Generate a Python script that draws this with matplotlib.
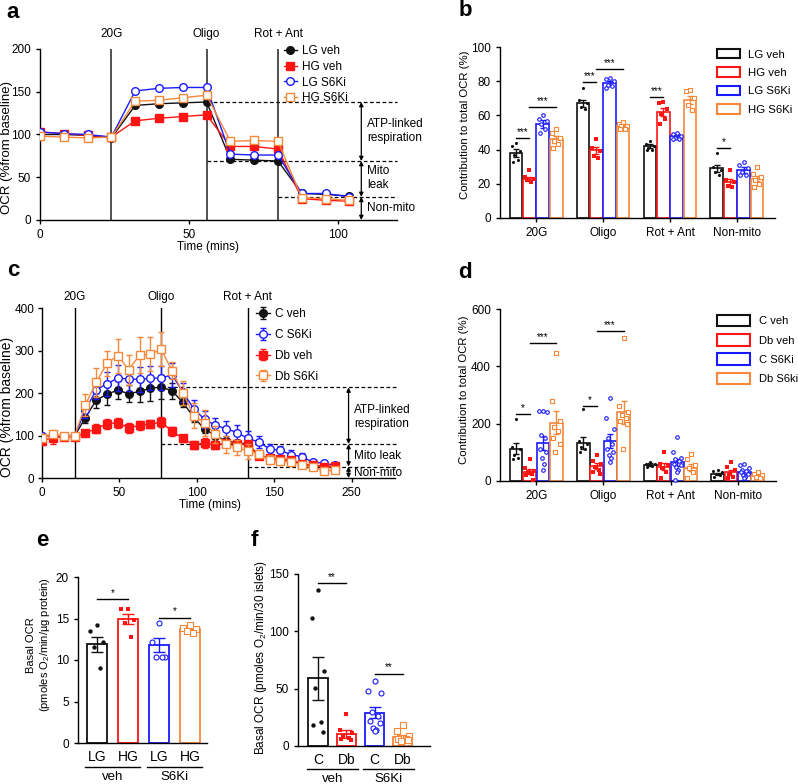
import numpy as np
import matplotlib
matplotlib.use('Agg')
import matplotlib.pyplot as plt
from matplotlib.patches import Patch
from matplotlib.transforms import blended_transform_factory

plt.rcParams['font.family'] = ['Liberation Sans', 'DejaVu Sans']
plt.rcParams['font.size'] = 8
plt.rcParams['mathtext.fontset'] = 'custom'
plt.rcParams['mathtext.rm'] = 'Liberation Sans'
plt.rcParams['axes.linewidth'] = 1.0
plt.rcParams['xtick.major.size'] = 3
plt.rcParams['ytick.major.size'] = 3

W, H = 798, 784
BLACK = '#111111'
RED = '#ff1414'
BLUE = '#1a1aff'
ORANGE = '#f7883a'
COLORS = [BLACK, RED, BLUE, ORANGE]

# ---- panel a : OCR time course (islets, LG / HG) ----
a_time = [0, 8, 16, 24, 32, 40, 48, 56, 64, 72, 80, 88, 96, 104]
a_lg_veh = [100, 100, 99, 96, 134, 136, 137, 138, 71, 70, 69, 31, 30, 28]
a_hg_veh = [103, 101, 99, 97, 116, 119, 121, 123, 86, 86, 83, 25, 23, 22]
a_lg_s6ki = [103, 101, 100, 97, 151, 154, 155, 155, 77, 76, 76, 31, 31, 27]
a_hg_s6ki = [98, 97, 96, 97, 139, 140, 143, 146, 92, 93, 92, 26, 25, 23]
a_labels = ['LG veh', 'HG veh', 'LG S6Ki', 'HG S6Ki']
a_events = [(24, '20G'), (56, 'Oligo'), (80, 'Rot + Ant')]

# ---- panel b : contribution to total OCR ----
groups = ['20G', 'Oligo', 'Rot + Ant', 'Non-mito']
b_means = [[38, 67, 42, 29],      # LG veh
           [23, 39.5, 62, 21],    # HG veh
           [55, 79, 48, 28],      # LG S6Ki
           [46, 54, 69, 23]]      # HG S6Ki
b_sems = [[2.5, 2.2, 1.2, 2.2],
          [1.2, 2.2, 2.6, 2.0],
          [2.2, 1.3, 1.0, 1.6],
          [2.0, 0.9, 2.6, 1.5]]
b_points = [
    [[44, 42, 39, 37, 34, 33], [76, 69, 67, 65, 64], [45, 43, 42, 41, 40, 40], [38, 30, 28, 27, 25]],
    [[28, 24, 23, 22, 21], [46, 41, 39, 36, 35], [68, 67, 64, 61, 58, 55], [28, 22, 21, 19, 18]],
    [[60, 58, 57, 55, 52, 50], [82, 81, 80, 78, 77, 76], [50, 49, 48, 47, 46, 46], [33, 31, 29, 27, 25, 25]],
    [[52, 50, 47, 45, 43, 41], [56, 55, 54, 54, 52, 52], [75, 74, 70, 66, 63], [30, 26, 24, 22, 20, 18]],
]
# (group, bar1, bar2, y, stars)
b_sig = [(0, 0, 1, 47, '***'), (0, 1, 3, 65, '***'), (1, 0, 1, 79.6, '***'),
         (1, 1, 3, 87.4, '***'), (2, 0, 1, 71, '***'), (3, 0, 1, 40.8, '*')]

# ---- panel c : OCR time course (C / Db islets) ----
c_time = [0, 7, 14, 21, 28, 35, 42, 49, 56, 63, 70, 77, 84, 91,
          98, 105, 112, 119, 126, 133, 140, 147, 154, 161, 168, 175, 182, 189]
c_c_veh = [100, 100, 98, 98, 142, 183, 197, 207, 198, 204, 211, 214, 205, 178,
           143, 115, 100, 87, 83, 80, 53, 48, 41, 39, 33, 28, 28, 25]
c_c_veh_sem = [3, 3, 3, 3, 12, 18, 25, 22, 20, 25, 30, 28, 18, 12,
               12, 10, 8, 8, 7, 7, 5, 5, 4, 4, 4, 4, 3, 3]
c_c_s6ki = [100, 98, 98, 98, 160, 207, 222, 235, 233, 232, 235, 235, 243, 202,
            163, 138, 124, 116, 107, 93, 85, 68, 65, 55, 50, 37, 35, 30]
c_c_s6ki_sem = [3, 3, 3, 3, 18, 22, 28, 30, 28, 30, 28, 28, 28, 22,
                20, 20, 18, 18, 18, 18, 15, 12, 10, 10, 8, 6, 5, 5]
c_db_veh = [88, 95, 97, 97, 106, 116, 128, 130, 118, 124, 127, 131, 110, 93,
            78, 82, 78, 82, 81, 79, 52, 46, 45, 43, 33, 30, 27, 28]
c_db_veh_sem = [10, 15, 5, 5, 6, 10, 12, 12, 12, 10, 10, 12, 10, 8,
                10, 12, 10, 8, 8, 8, 6, 6, 5, 5, 4, 4, 4, 4]
c_db_s6ki = [95, 104, 98, 98, 172, 225, 270, 288, 255, 289, 291, 303, 252, 200,
             147, 130, 103, 80, 72, 63, 57, 43, 40, 38, 30, 25, 17, 18]
c_db_s6ki_sem = [8, 8, 5, 5, 25, 35, 30, 40, 35, 42, 40, 40, 20, 28,
                 30, 30, 20, 20, 18, 18, 10, 10, 8, 8, 6, 5, 5, 5]
c_labels = ['C veh', 'C S6Ki', 'Db veh', 'Db S6Ki']
c_events = [(21, '20G'), (77, 'Oligo'), (133, 'Rot + Ant')]
c_xticks = [0, 50, 100, 150, 200]
c_xticklabels = ['0', '50', '100', '150', '250']

# ---- panel d : contribution to total OCR (C / Db) ----
d_labels = ['C veh', 'Db veh', 'C S6Ki', 'Db S6ki']
d_means = [[113, 133, 57, 25],
           [33, 52, 50, 30],
           [133, 140, 65, 30],
           [203, 240, 47, 20]]
d_sems = [[20, 20, 5, 4],
          [10, 10, 12, 8],
          [25, 25, 12, 5],
          [40, 40, 12, 3]]
d_points = [
    [[215, 120, 110, 90, 80, 75], [250, 140, 130, 120, 110, 100], [65, 60, 58, 55, 52, 50], [40, 35, 30, 25, 20, 15]],
    [[75, 45, 35, 30, 25, 20, 5], [90, 70, 60, 50, 40, 30, 25], [100, 60, 55, 45, 30, 10], [65, 50, 40, 25, 15, 10]],
    [[245, 245, 240, 160, 150, 110, 100, 80, 60, 40], [290, 220, 180, 150, 130, 110, 100, 90, 80, 65],
     [155, 100, 80, 75, 70, 60, 55, 50, 40, 30, 5], [60, 55, 45, 40, 35, 30, 25, 20, 15, 10]],
    [[445, 280, 210, 190, 175, 150, 130, 100], [500, 260, 240, 230, 220, 210, 200, 110],
     [95, 75, 55, 45, 30, 10], [30, 25, 20, 15, 10]],
]
d_sig = [(0, 0, 1, 233, '*'), (0, 1, 3, 481, '***'), (1, 0, 1, 263, '*'), (1, 1, 3, 524, '***')]

# ---- panel e : basal OCR per protein ----
e_ticklabels = ['LG', 'HG', 'LG', 'HG']
e_means = [11.9, 14.9, 11.8, 13.7]
e_sems = [0.9, 0.6, 0.8, 0.3]
e_points = [[14.2, 13.5, 12.2, 11.6, 9.0], [16.2, 16.1, 14.8, 14.4, 12.8],
            [14.4, 12.2, 10.4, 10.4, 10.4], [14.2, 13.9, 13.7, 13.5, 13.2]]
e_sig = [(0, 1, 17.3, '*'), (2, 3, 15.1, '*')]

# ---- panel f : basal OCR per 30 islets ----
f_ticklabels = ['C', 'Db', 'C', 'Db']
f_means = [59, 10.5, 29, 8]
f_sems = [19, 3.5, 5, 2]
f_points = [[136, 112, 65, 51, 21, 18, 12], [28, 14, 11, 9, 7, 6, 5],
            [57, 48, 46, 30, 26, 22, 20, 16, 14, 13], [18, 13, 9, 7, 6, 6, 5, 4]]
f_sig = [(0, 1, 142, '**'), (2, 3, 63, '**')]

treatments = ['veh', 'S6Ki']

fig = plt.figure(figsize=(W / 100, H / 100), dpi=100)


def add_ax(l, t, r, b, fs=8.5):
    ax = fig.add_axes([l / W, 1 - b / H, (r - l) / W, (b - t) / H])
    ax.spines['top'].set_visible(False)
    ax.spines['right'].set_visible(False)
    ax.tick_params(labelsize=fs, width=1)
    return ax


def ftext(x, y, s, **kw):
    fig.text(x / W, 1 - y / H, s, ha=kw.pop('ha', 'center'), va=kw.pop('va', 'center'), **kw)


def spread(n):
    pattern = np.array([0, -1, 1, -0.5, 0.5, -0.8, 0.8, -0.25, 0.25, 0.0, -0.6, 0.6])
    return np.resize(pattern, n) * 0.32


def scatter_pts(ax, x, pts, k, width, size):
    xs = x + spread(len(pts)) * width
    if k in (0, 1):
        mk = 'o' if k == 0 else 's'
        ax.scatter(xs, pts, s=size, marker=mk, color=COLORS[k], zorder=5, linewidths=0, clip_on=False)
    else:
        mk = 'o' if k == 2 else 's'
        ax.scatter(xs, pts, s=size * 1.3, marker=mk, facecolors='white', edgecolors=COLORS[k],
                   zorder=5, linewidths=0.8, clip_on=False)


def sig_line(ax, x1, x2, y, stars, dy):
    ax.plot([x1, x2], [y, y], color='k', lw=1, clip_on=False)
    ax.text((x1 + x2) / 2, y + dy, stars, ha='center', va='bottom', fontsize=7)


def time_course(ax, t, series, sems, markers, fills, labels):
    for k, vals in enumerate(series):
        col = [BLACK, BLUE, RED, ORANGE][k] if sems is not None else COLORS[k]
        mfc = col if fills[k] else 'white'
        if sems is None:
            ax.plot(t, vals, color=col, marker=markers[k], ms=5.5, lw=1, mfc=mfc, mec=col,
                    mew=1, label=labels[k], zorder=3 + k)
        else:
            ax.errorbar(t, vals, yerr=sems[k], color=col, marker=markers[k], ms=5.5, lw=1,
                        mfc=mfc, mec=col, mew=1, capsize=2.5, elinewidth=1, capthick=1,
                        label=labels[k], zorder=3 + k)


def arrow(ax, x, y0, y1):
    ax.annotate('', xy=(x, y1), xytext=(x, y0),
                arrowprops=dict(arrowstyle='<|-|>', color='k', lw=0.9, mutation_scale=6,
                                shrinkA=0, shrinkB=0), annotation_clip=False)


# ================= panel a =================
ax = add_ax(40, 49, 397, 220)
time_course(ax, a_time, [a_lg_veh, a_hg_veh, a_lg_s6ki, a_hg_s6ki], None,
            ['o', 's', 'o', 's'], [True, True, False, False], a_labels)
ax.set_xlim(0, 120)
ax.set_ylim(0, 200)
ax.set_xticks([0, 50, 100])
ax.set_yticks([0, 50, 100, 150, 200])
tr = blended_transform_factory(ax.transData, ax.transAxes)
for x, name in a_events:
    ax.axvline(x, color='#333333', lw=1.2, zorder=1)
    ax.text(x, 1.088, name, transform=tr, ha='center', va='center', fontsize=8.5)
dash = (0, (3, 2))
ax.plot([56, 120], [138, 138], ls=dash, color='k', lw=0.9, clip_on=False)
ax.plot([56, 120], [69, 69], ls=dash, color='k', lw=0.9, clip_on=False)
ax.plot([80, 120], [27, 27], ls=dash, color='k', lw=0.9, clip_on=False)
arrow(ax, 108, 138, 69)
arrow(ax, 108, 69, 27)
arrow(ax, 108, 27, 0)
ax.text(110, 104, 'ATP-linked\nrespiration', ha='left', va='center', clip_on=False, fontsize=8.5)
ax.text(110, 49, 'Mito\nleak', ha='left', va='center', clip_on=False, fontsize=8.5)
ax.text(110, 14, 'Non-mito', ha='left', va='center', clip_on=False, fontsize=8.5)
ax.legend(loc='upper left', bbox_to_anchor=(284 / W, 1 - 45 / H), bbox_transform=fig.transFigure,
          frameon=False, fontsize=8.5, handlelength=1.1, handletextpad=0.4, labelspacing=0.32,
          borderpad=0, borderaxespad=0)
ftext(208, 247, 'Time (mins)', fontsize=8.5)
ftext(7, 148, 'OCR (%from baseline)', rotation=90, fontsize=9.5)


def grouped_bars(ax, means, sems, points, width, size, cap):
    offsets = [-0.3, -0.1, 0.1, 0.3]
    for k in range(4):
        for g in range(len(groups)):
            x = g + offsets[k]
            ax.bar(x, means[k][g], width, facecolor='white', edgecolor=COLORS[k], lw=1.2, zorder=2)
            ax.errorbar(x, means[k][g], yerr=sems[k][g], color=COLORS[k], capsize=cap,
                        elinewidth=1, capthick=1, zorder=4)
            scatter_pts(ax, x, points[k][g], k, width, size)
    ax.set_xticks(range(len(groups)))
    ax.set_xticklabels(groups)
    return offsets


# ================= panel b =================
ax = add_ax(500, 47, 775, 218)
offs = grouped_bars(ax, b_means, b_sems, b_points, 0.19, 5, 2.5)
ax.set_xlim(-0.54, 3.57)
ax.set_ylim(0, 100)
ax.set_yticks([0, 20, 40, 60, 80, 100])
for g, i, j, y, s in b_sig:
    sig_line(ax, g + offs[i], g + offs[j], y, s, 0.5)
ax.legend(handles=[Patch(facecolor='white', edgecolor=COLORS[k], lw=1.5, label=a_labels[k]) for k in range(4)],
          loc='upper left', bbox_to_anchor=(717 / W, 1 - 49 / H), bbox_transform=fig.transFigure,
          frameon=False, fontsize=8.2, handlelength=2.0, handleheight=0.9, handletextpad=0.7,
          labelspacing=0.68, borderpad=0, borderaxespad=0)
ftext(465, 125, 'Contribution to total OCR (%)', rotation=90, fontsize=8.2)

# ================= panel c =================
ax = add_ax(42, 308, 395, 478, fs=8.5)
time_course(ax, c_time, [c_c_veh, c_c_s6ki, c_db_veh, c_db_s6ki],
            [c_c_veh_sem, c_c_s6ki_sem, c_db_veh_sem, c_db_s6ki_sem],
            ['o', 'o', 's', 's'], [True, False, True, False], c_labels)
ax.set_xlim(0, 228)
ax.set_ylim(0, 400)
ax.set_xticks(c_xticks)
ax.set_xticklabels(c_xticklabels)
ax.set_yticks([0, 100, 200, 300, 400])
ax.tick_params(axis='y', pad=2.5)
tr = blended_transform_factory(ax.transData, ax.transAxes)
for x, name in c_events:
    ax.axvline(x, color='k', lw=1.0, zorder=1)
    ax.text(x, 1.062, name, transform=tr, ha='center', va='center', fontsize=8.5)
ax.plot([77, 230], [213, 213], ls=dash, color='k', lw=0.9, clip_on=False)
ax.plot([77, 230], [80, 80], ls=dash, color='k', lw=0.9, clip_on=False)
ax.plot([133, 230], [27, 27], ls=dash, color='k', lw=0.9, clip_on=False)
arrow(ax, 198, 213, 80)
arrow(ax, 198, 80, 27)
arrow(ax, 198, 27, 0)
ax.text(201.5, 143, 'ATP-linked\nrespiration', ha='left', va='center', clip_on=False, fontsize=8.5)
ax.text(201.5, 52, 'Mito leak', ha='left', va='center', clip_on=False, fontsize=8.5)
ax.text(201.5, 12, 'Non-mito', ha='left', va='center', clip_on=False, fontsize=8.5)
ax.legend(loc='upper left', bbox_to_anchor=(256 / W, 1 - 308 / H), bbox_transform=fig.transFigure,
          frameon=False, fontsize=8.5, handlelength=1.2, handletextpad=0.45, labelspacing=0.75,
          borderpad=0, borderaxespad=0)
ftext(210, 505, 'Time (mins)', fontsize=8.5)
ftext(7, 407, 'OCR (%from baseline)', rotation=90, fontsize=10)

# ================= panel d =================
ax = add_ax(500, 309, 776, 481)
offs = grouped_bars(ax, d_means, d_sems, d_points, 0.19, 5, 2.5)
ax.set_xlim(-0.54, 3.57)
ax.set_ylim(0, 600)
ax.set_yticks([0, 200, 400, 600])
for g, i, j, y, s in d_sig:
    sig_line(ax, g + offs[i], g + offs[j], y, s, 3)
ax.legend(handles=[Patch(facecolor='white', edgecolor=COLORS[k], lw=1.5, label=d_labels[k]) for k in range(4)],
          loc='upper left', bbox_to_anchor=(717 / W, 1 - 315 / H), bbox_transform=fig.transFigure,
          frameon=False, fontsize=8, handlelength=3.0, handleheight=1.2, handletextpad=0.75,
          labelspacing=0.7, borderpad=0, borderaxespad=0)
ftext(464, 390, 'Contribution to total OCR (%)', rotation=90, fontsize=8.2)


def simple_bars(ax, means, sems, points, ticklabels, sig, width, dy, line_y, text_y):
    for k in range(4):
        ax.bar(k, means[k], width, facecolor='white', edgecolor=COLORS[k], lw=1.3, zorder=2)
        ax.errorbar(k, means[k], yerr=sems[k], color=COLORS[k], capsize=4, elinewidth=1,
                    capthick=1, zorder=4)
        scatter_pts(ax, k, points[k], k, width, 10)
    ax.set_xticks(range(4))
    ax.set_xticklabels(ticklabels, fontsize=10)
    ax.tick_params(axis='x', length=0, pad=5)
    for i, j, y, s in sig:
        sig_line(ax, i, j, y, s, dy)
    tr = blended_transform_factory(ax.transData, ax.transAxes)
    for (x0, x1), name in zip([(-0.4, 1.4), (1.6, 3.4)], treatments):
        ax.plot([x0, x1], [line_y, line_y], color='k', lw=1, transform=tr, clip_on=False)
        ax.text((x0 + x1) / 2, text_y, name, transform=tr, ha='center', va='center', fontsize=9.5)


# ================= panel e =================
ax = add_ax(78, 577, 207, 743)
simple_bars(ax, e_means, e_sems, e_points, e_ticklabels, e_sig, 0.65, 0.15, -0.145, -0.205)
ax.set_xlim(-0.61, 3.55)
ax.set_ylim(0, 20)
ax.set_yticks([0, 5, 10, 15, 20])
ftext(39, 645, 'Basal OCR\n(pmoles O$_{2}$/min/µg protein)', rotation=90, linespacing=1.3)

# ================= panel f =================
ax = add_ax(298, 574, 430, 746)
simple_bars(ax, f_means, f_sems, f_points, f_ticklabels, f_sig, 0.68, 1.2, -0.134, -0.19)
ax.set_xlim(-0.71, 3.96)
ax.set_ylim(0, 150)
ax.set_yticks([0, 50, 100, 150])
ftext(261, 657, 'Basal OCR (pmoles O$_{2}$/min/30 islets)', rotation=90, fontsize=8.5)

# panel letters
for x, y, s in [(13, 13, 'a'), (465, 11, 'b'), (13, 270, 'c'), (465, 272, 'd'), (42, 541, 'e'), (254, 541, 'f')]:
    ftext(x, y, s, fontsize=16, fontweight='bold')

fig.savefig('out.png', dpi=100)
